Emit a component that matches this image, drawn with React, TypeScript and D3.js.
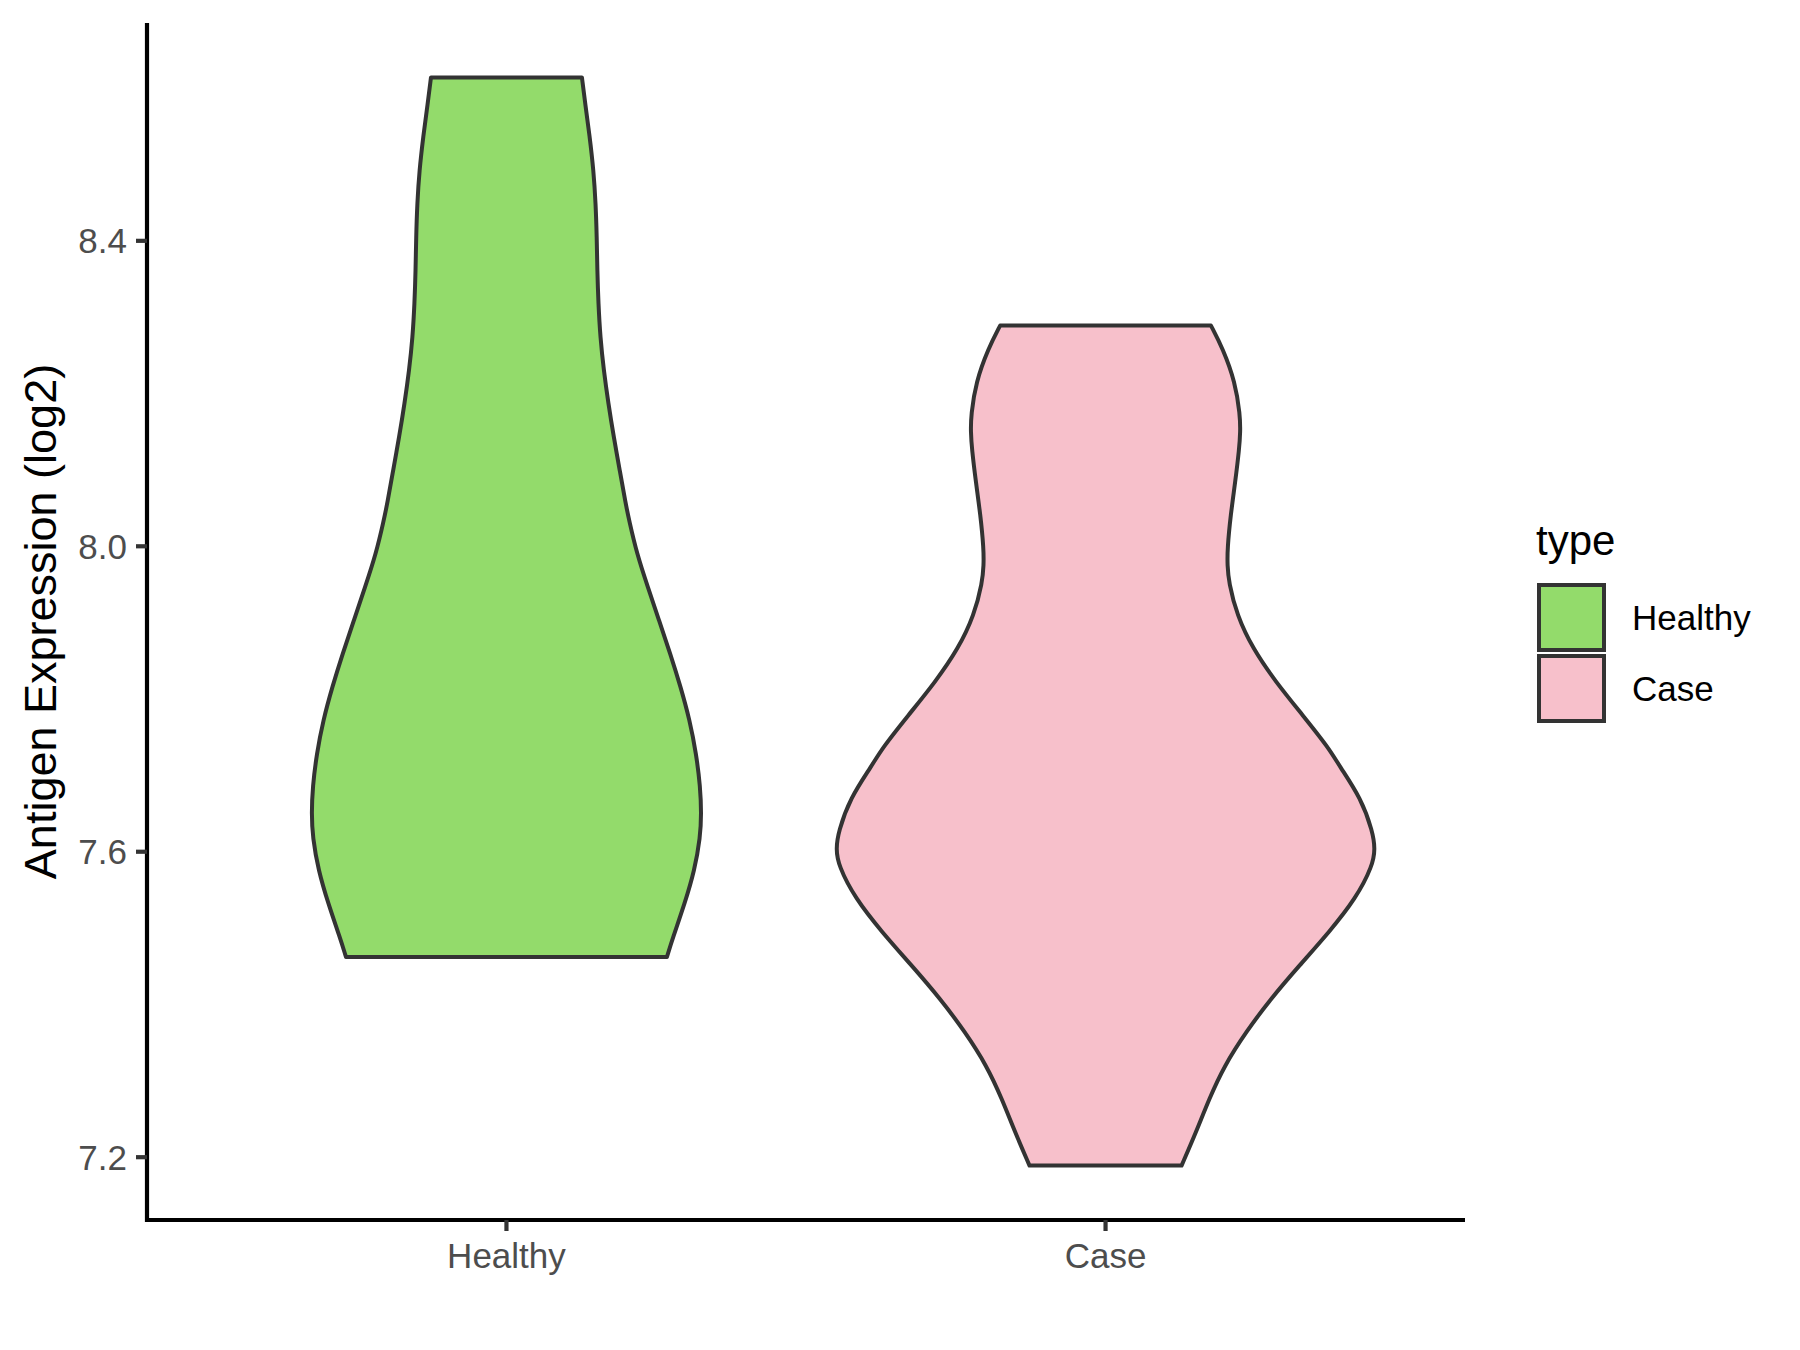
import React from "react";
import * as d3 from "d3";

// ---- Data ----
const categories = ["Healthy", "Case"];
const fills = ["#93DB6B", "#F7C0CB"];

// Violin profiles: value (log2 expression) and relative density width (1 = widest violin)
const healthyValues = [
  8.614, 8.58, 8.536, 8.492, 8.449, 8.405, 8.361, 8.318, 8.274, 8.23, 8.187, 8.143, 8.1, 8.056, 8.034,
  7.99, 7.947, 7.903, 7.859, 7.816, 7.772, 7.728, 7.685, 7.65, 7.619, 7.576, 7.532, 7.488, 7.462,
];
const healthyDensity = [
  0.28, 0.292, 0.309, 0.323, 0.331, 0.335, 0.337, 0.341, 0.348, 0.361, 0.378, 0.398, 0.42, 0.442, 0.455,
  0.484, 0.524, 0.566, 0.608, 0.646, 0.68, 0.704, 0.719, 0.723, 0.719, 0.698, 0.661, 0.618, 0.595,
];

const caseValues = [
  8.289, 8.259, 8.215, 8.172, 8.15, 8.128, 8.084, 8.041, 7.997, 7.975, 7.953, 7.91, 7.866, 7.822, 7.779,
  7.735, 7.713, 7.67, 7.626, 7.604, 7.582, 7.539, 7.495, 7.451, 7.408, 7.364, 7.32, 7.277, 7.233, 7.189,
];
const caseDensity = [
  0.391, 0.435, 0.481, 0.499, 0.5, 0.496, 0.481, 0.464, 0.452, 0.452, 0.457, 0.487, 0.546, 0.632, 0.731,
  0.83, 0.866, 0.948, 0.991, 1.0, 0.991, 0.929, 0.83, 0.719, 0.614, 0.521, 0.441, 0.385, 0.336, 0.282,
];

const yTicks = [7.2, 7.6, 8.0, 8.4];
const yTitle = "Antigen Expression (log2)";
const legendTitle = "type";

const W = 1800;
const H = 1350;
const panel = { left: 147, right: 1465, top: 23, bottom: 1220 };

export default function App() {
  const series = [
    { name: categories[0], values: healthyValues, density: healthyDensity, fill: fills[0] },
    { name: categories[1], values: caseValues, density: caseDensity, fill: fills[1] },
  ];
  const all = [...healthyValues, ...caseValues];
  const lo = d3.min(all) as number;
  const hi = d3.max(all) as number;
  const pad = (hi - lo) * 0.05;

  const x = d3.scalePoint<string>().domain(categories).range([panel.left, panel.right]).padding(0.6);
  const step = x.step();
  const y = d3.scaleLinear().domain([lo - pad, hi + pad]).range([panel.bottom, panel.top]);
  const fmt = d3.format(".1f");

  const font = "'Liberation Sans', Arial, sans-serif";
  const outline = "#333333";

  return (
    <div style={{ position: "absolute", left: 0, top: 0 }}>
      <svg width={W} height={H} style={{ display: "block", background: "#fff" }}>
        {series.map((s) => {
          const cx = x(s.name) as number;
          const pts = s.values.map((v, i) => ({ v, d: s.density[i] }));
          const area = d3
            .area<{ v: number; d: number }>()
            .curve(d3.curveBasis)
            .y((p) => y(p.v))
            .x0((p) => cx - p.d * 0.45 * step)
            .x1((p) => cx + p.d * 0.45 * step);
          return (
            <path
              key={s.name}
              d={area(pts) || ""}
              fill={s.fill}
              stroke={outline}
              strokeWidth={4}
              strokeLinejoin="round"
            />
          );
        })}

        {/* axes */}
        <line x1={panel.left} x2={panel.left} y1={panel.top} y2={panel.bottom + 2} stroke="#000" strokeWidth={4.2} />
        <line x1={panel.left - 2} x2={panel.right} y1={panel.bottom} y2={panel.bottom} stroke="#000" strokeWidth={4.2} />
        {yTicks.map((t) => (
          <g key={t}>
            <line x1={panel.left - 11} x2={panel.left} y1={y(t)} y2={y(t)} stroke="#333" strokeWidth={4.2} />
            <text
              x={panel.left - 20}
              y={y(t)}
              dy="0.36em"
              textAnchor="end"
              fontFamily={font}
              fontSize={35}
              fill="#4D4D4D"
            >
              {fmt(t)}
            </text>
          </g>
        ))}
        {categories.map((c) => (
          <g key={c}>
            <line x1={x(c)} x2={x(c)} y1={panel.bottom} y2={panel.bottom + 11} stroke="#333" strokeWidth={4.2} />
            <text
              x={x(c)}
              y={1268}
              textAnchor="middle"
              fontFamily={font}
              fontSize={35}
              fill="#4D4D4D"
            >
              {c}
            </text>
          </g>
        ))}
        <text
          transform={`translate(${56},${(panel.top + panel.bottom) / 2}) rotate(-90)`}
          textAnchor="middle"
          fontFamily={font}
          fontSize={45}
          fill="#000"
        >
          {yTitle}
        </text>

        {/* legend */}
        <text x={1536} y={555} fontFamily={font} fontSize={42} fill="#000">
          {legendTitle}
        </text>
        {series.map((s, i) => (
          <g key={s.name} transform={`translate(1539,${585 + i * 71})`}>
            <rect width={65} height={65} fill={s.fill} stroke={outline} strokeWidth={4} />
            <text x={93} y={32.5} dy="0.36em" fontFamily={font} fontSize={35} fill="#000">
              {s.name}
            </text>
          </g>
        ))}
      </svg>
    </div>
  );
}
